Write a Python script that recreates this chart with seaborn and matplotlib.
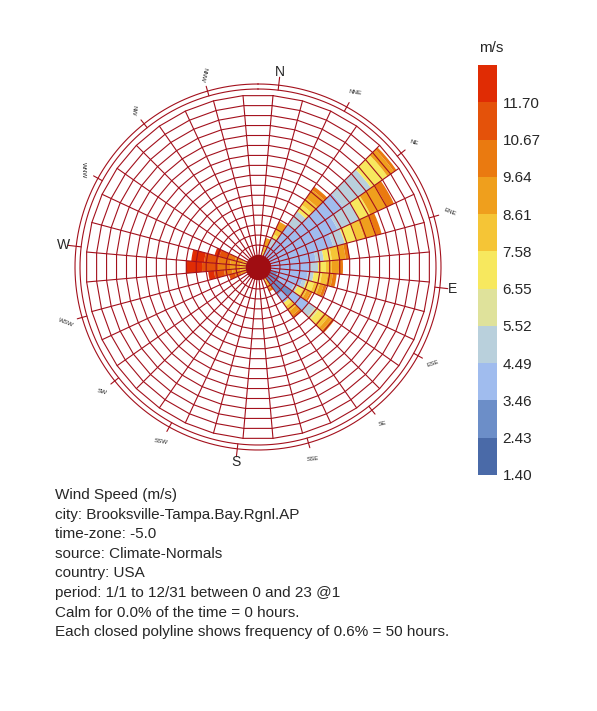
import numpy as np
import seaborn as sns
import matplotlib.pyplot as plt
from matplotlib.colors import ListedColormap, BoundaryNorm
import matplotlib as mpl

sns.set_style("white")
plt.rcParams['font.family'] = ['Liberation Sans', 'DejaVu Sans']

# wind directions (deg) that carry data, and hours per speed bin
directions = [20, 30, 40, 50, 60, 70, 80, 90, 100, 110, 120, 130, 140, 150, 250, 260, 270, 280, 290]
bin_hours = [
    [0, 0, 0, 0, 0, 20, 30, 40, 0, 0, 0],
    [0, 0, 60, 40, 0, 20, 30, 40, 0, 0, 0],
    [0, 0, 200, 80, 0, 40, 40, 50, 20, 0, 0],
    [0, 0, 460, 170, 0, 100, 0, 40, 15, 0, 0],
    [0, 0, 380, 120, 0, 60, 0, 90, 40, 0, 0],
    [0, 0, 330, 60, 0, 60, 40, 60, 30, 0, 0],
    [0, 0, 230, 40, 0, 40, 40, 30, 20, 0, 0],
    [0, 0, 200, 40, 0, 40, 30, 35, 20, 0, 0],
    [0, 0, 190, 30, 0, 40, 30, 25, 20, 0, 0],
    [0, 40, 130, 20, 0, 40, 30, 20, 15, 0, 0],
    [0, 60, 80, 20, 0, 30, 20, 20, 10, 0, 0],
    [0, 150, 100, 40, 20, 30, 30, 20, 15, 0, 0],
    [0, 110, 50, 0, 0, 20, 30, 25, 15, 0, 0],
    [0, 0, 0, 0, 0, 20, 20, 20, 15, 0, 0],
    [0, 0, 0, 0, 0, 0, 0, 30, 30, 30, 0],
    [0, 0, 0, 0, 0, 0, 30, 40, 40, 50, 30],
    [0, 0, 0, 0, 0, 0, 30, 50, 60, 80, 80],
    [0, 0, 0, 0, 0, 0, 30, 50, 60, 70, 65],
    [0, 0, 0, 0, 0, 0, 20, 40, 40, 40, 25],
]
speed_ticks = [1.40, 2.43, 3.46, 4.49, 5.52, 6.55, 7.58, 8.61, 9.64, 10.67, 11.70]
bin_colors = ['#4a6aa8', '#6c8ec8', '#a0bcee', '#b9d0dc', '#dfe29b', '#f7e85e',
              '#f5c536', '#ef9f1d', '#ea7a10', '#e4520a', '#e02c04']
compass = ['N', 'NNE', 'NE', 'ENE', 'E', 'ESE', 'SE', 'SSE',
           'S', 'SSW', 'SW', 'WSW', 'W', 'WNW', 'NW', 'NNW']
info_lines = [
    'Wind Speed (m/s)',
    'city: Brooksville-Tampa.Bay.Rgnl.AP',
    'time-zone: -5.0',
    'source: Climate-Normals',
    'country: USA',
    'period: 1/1 to 12/31 between 0 and 23 @1',
    'Calm for 0.0% of the time = 0 hours.',
    'Each closed polyline shows frequency of 0.6% = 50 hours.',
]

hole = 60
ring_step = 50
n_rings = 16
grid_col = '#a3101c'
rot = 6.5

fig = plt.figure(figsize=(5.97, 7.11), dpi=100)
W, H = 597, 711
cx, cy, R = 258, 267, 205
ax = fig.add_axes([(cx - R) / W, (H - cy - R) / H, 2 * R / W, 2 * R / H], projection='polar')
ax.set_theta_zero_location('N')
ax.set_theta_direction(-1)
rmax = 1025
ax.set_ylim(0, rmax)
ax.axis('off')

# stacked bars
width = np.deg2rad(10)
for d, hours in zip(directions, bin_hours):
    bottom = hole
    for k, h in enumerate(hours):
        if h > 0:
            ax.bar(np.deg2rad(d), h, width=width, bottom=bottom, color=bin_colors[k],
                   edgecolor='none', align='center', zorder=2)
            bottom += h

# polyline rings
poly_t = np.deg2rad(np.arange(5, 366, 10))
outer = hole + ring_step * n_rings
for k in range(1, n_rings + 1):
    ax.plot(poly_t, np.full_like(poly_t, hole + ring_step * k), color=grid_col, lw=0.8, zorder=3)
# spokes
for t in poly_t[:-1]:
    ax.plot([t, t], [hole, outer], color=grid_col, lw=0.8, zorder=3)
# centre disc
circ_t = np.linspace(0, 2 * np.pi, 200)
ax.fill_between(circ_t, 0, hole, color='#a00d12', zorder=4)
# outer circles
ax.plot(circ_t, np.full_like(circ_t, outer + 30), color=grid_col, lw=0.8)
ax.plot(circ_t, np.full_like(circ_t, outer + 55), color=grid_col, lw=0.8)

# compass ticks and labels (slightly rotated)
for i, name in enumerate(compass):
    a = i * 22.5 + rot
    t = np.deg2rad(a)
    big = i % 4 == 0
    ax.plot([t, t], [outer + 30, outer + (95 if big else 80)], color=grid_col, lw=0.8)
    rot_txt = -a if a <= 90 or a >= 270 else 180 - a
    if big:
        ax.text(t, outer + 120, name, fontsize=10, ha='center', va='center')
    else:
        ax.text(t, outer + 140, name, fontsize=4.5, ha='center', va='center',
                rotation=rot_txt * 0.3)

# colour legend
cmap = ListedColormap(bin_colors)
bounds = speed_ticks + [12.73]
norm = BoundaryNorm(bounds, cmap.N)
cax = fig.add_axes([478 / W, (H - 475) / H, 19 / W, 410 / H])
cb = fig.colorbar(mpl.cm.ScalarMappable(norm=norm, cmap=cmap), cax=cax, ticks=speed_ticks)
cb.outline.set_visible(False)
cb.ax.minorticks_off()
cb.ax.tick_params(which='both', length=0, labelsize=11, pad=4)
cb.ax.set_yticklabels([f'{v:.2f}' for v in speed_ticks])
fig.text(479 / W, 1 - 48 / H, 'm/s', fontsize=11, va='center')

# info text
for i, line in enumerate(info_lines):
    fig.text(55 / W, 1 - (495 + i * 19.6) / H, line, fontsize=11, va='center')

fig.savefig('out.png', dpi=100)
